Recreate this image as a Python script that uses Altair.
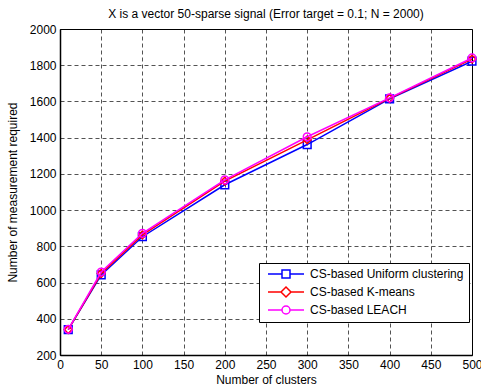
import altair as alt
import pandas as pd

clusters = [10, 50, 100, 200, 300, 400, 500]
uniform = [340, 642, 853, 1140, 1362, 1614, 1822]
kmeans = [340, 650, 863, 1160, 1388, 1617, 1834]
leach = [342, 658, 872, 1167, 1405, 1620, 1840]
series_names = ["CS-based Uniform clustering", "CS-based K-means", "CS-based LEACH"]
series_colors = ["#0000ff", "#ff0000", "#ff00ff"]
series_shapes = ["square", "diamond", "circle"]
x_ticks = list(range(0, 501, 50))
y_ticks = list(range(200, 2001, 200))

rows = []
for name, vals in zip(series_names, [uniform, kmeans, leach]):
    for c, v in zip(clusters, vals):
        rows.append({"clusters": c, "value": v, "series": name})
df = pd.DataFrame(rows)

FONT = "Liberation Sans"

sym_expr = ("datum.value === 'CS-based Uniform clustering' ? 'M-3.6,0H-0.8M0.8,0H3.6M-0.8,-0.8H0.8V0.8H-0.8Z' : "
            "datum.value === 'CS-based K-means' ? 'M-3.6,0H-1M1,0H3.6M-1,0L0,-1L1,0L0,1Z' : "
            "'M-3.6,0H-0.8M0.8,0H3.6M-0.8,0A0.8,0.8 0 1,0 0.8,0A0.8,0.8 0 1,0 -0.8,0'")

xenc = alt.X("clusters:Q", scale=alt.Scale(domain=[0, 500], nice=False),
             axis=alt.Axis(values=x_ticks, title="Number of clusters", format="d",
                           titleFontWeight="normal", labelFlush=False))
yenc = alt.Y("value:Q", scale=alt.Scale(domain=[200, 2000], nice=False, zero=False),
             axis=alt.Axis(values=y_ticks, title="Number of measurement required", format="d",
                           titleFontWeight="normal", labelFlush=False))
color = alt.Color("series:N", scale=alt.Scale(domain=series_names, range=series_colors),
                  legend=alt.Legend(
                      title=None, orient="none", legendX=199, legendY=234,
                      padding=5, strokeColor="black", fillColor="white",
                      labelFontSize=12, labelFont=FONT, labelColor="black",
                      symbolSize=100, symbolStrokeWidth=1.5, symbolOpacity=1,
                      symbolFillColor="transparent",
                      symbolType={"expr": sym_expr},
                      symbolOffset=16, labelOffset=18, rowPadding=3,
                      labelLimit=300,
                  ))

layers = []
for name, shp in zip(series_names, series_shapes):
    base = alt.Chart(df).transform_filter(alt.datum.series == name)
    layers.append(base.mark_line(strokeWidth=1.5).encode(x=xenc, y=yenc, color=color))
    layers.append(base.mark_point(filled=False, size=60, strokeWidth=1.5, shape=shp, opacity=1).encode(
        x=xenc, y=yenc, color=color))

chart = alt.layer(*layers).properties(
    width=412, height=326,
    background="white",
    title=alt.TitleParams("X is a vector 50-sparse signal (Error target = 0.1; N = 2000)",
                          fontSize=12, font=FONT, fontWeight="normal", color="black", offset=2),
    autosize=alt.AutoSizeParams(type="none"),
    padding={"left": 60, "top": 29, "right": 9, "bottom": 32},
).configure_view(stroke="black", strokeWidth=1).configure_axis(
    labelFont=FONT, labelFontSize=12, labelColor="black",
    titleFont=FONT, titleFontSize=12, titleColor="black", titleFontWeight="normal",
    domainColor="black", domainWidth=1.5, ticks=False,
    grid=True, gridColor="black", gridDash=[4, 3], gridWidth=0.8, gridOpacity=0.85,
    labelPadding=4,
).configure_axisX(titlePadding=4).configure_axisY(titlePadding=10)

chart.save("out.html", embed_options={"renderer": "svg", "actions": False})
